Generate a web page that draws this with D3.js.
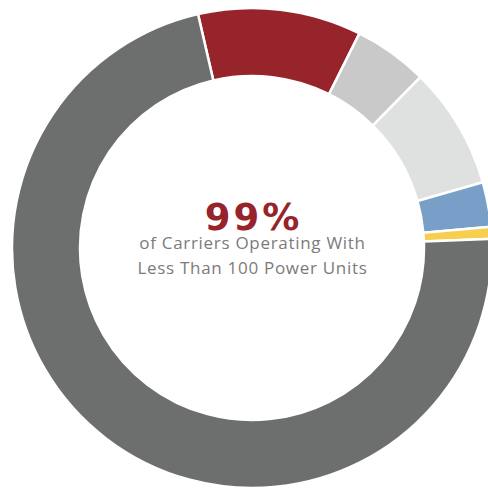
<!DOCTYPE html>
<html>
<head>
<meta charset="utf-8">
<script src="https://cdn.jsdelivr.net/npm/d3@7"></script>
<style>
    body { margin: 0; background: #fff; }
    .big { font-family: "DejaVu Sans", sans-serif; font-weight: bold; fill: #97242b; }
    .sub { font-family: "Open Sans", sans-serif; fill: #7b7b7b; }
</style>
</head>
<body>
<div id="donut"></div>
<script>
// share of carriers, percent, clockwise from the top-left
const segments = ['Segment 1', 'Segment 2', 'Segment 3', 'Segment 4', 'Segment 5', 'Segment 6'];
const shares = [11, 5, 8.2, 3, 0.8, 72];
const colors = ['#97242b', '#c9c9c9', '#dfe1e0', '#779fc8', '#f7cf4f', '#6d6f6e'];

const headline = '99%';
const captionLines = ['of Carriers Operating With', 'Less Than 100 Power Units'];

function make_donut() {
    var width = 488, height = 490;
    var cX = 252, cY = 248;
    var outerR = 240, innerR = 172;
    var start = -13 * Math.PI / 180;

    var svg = d3.select("#donut").append("svg")
        .attr("width", width)
        .attr("height", height);

    var g = svg.append("g")
        .attr("transform", "translate(" + cX + "," + cY + ")");

    var pie = d3.pie()
        .sort(null)
        .value(d => d)
        .startAngle(start)
        .endAngle(start + 2 * Math.PI);

    var arc = d3.arc()
        .innerRadius(innerR)
        .outerRadius(outerR);

    g.selectAll("path")
        .data(pie(shares))
        .enter().append("path")
        .attr("d", arc)
        .attr("fill", (d, i) => colors[i])
        .attr("stroke", "#fff")
        .attr("stroke-width", 2.5);

    g.append("text")
        .text(headline)
        .attr("x", 1.5)
        .attr("y", -18)
        .attr("text-anchor", "middle")
        .attr("font-size", 37)
        .attr("letter-spacing", 3)
        .attr("class", "big");

    captionLines.forEach(function(line, i) {
        g.append("text")
            .text(line)
            .attr("x", 0.5)
            .attr("y", 1 + i * 25)
            .attr("text-anchor", "middle")
            .attr("font-size", 17)
            .attr("letter-spacing", 0.7)
            .attr("class", "sub");
    });
};

make_donut();
</script>
</body>
</html>
